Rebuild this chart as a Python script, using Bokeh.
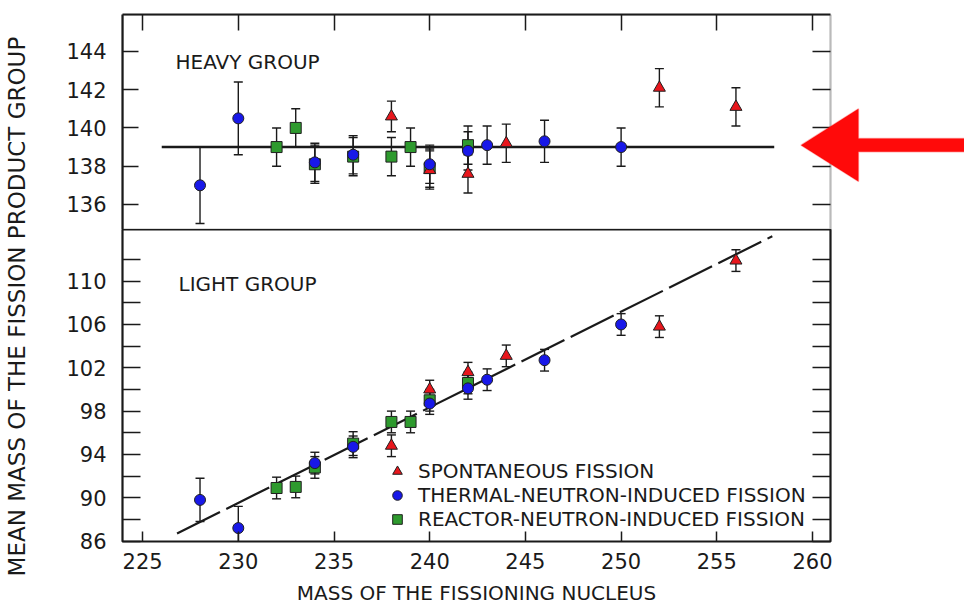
from bokeh.plotting import figure
from bokeh.models import (Range1d, LinearAxis, FixedTicker, Label, PolyAnnotation,
                          BoxAnnotation, Legend, LegendItem)
from bokeh.layouts import row, column
from bokeh.embed import file_html
from bokeh.resources import INLINE

# ---------------- data ----------------
x_ticks = [225, 230, 235, 240, 245, 250, 255, 260]
heavy_ticks = [136, 138, 140, 142, 144]
light_ticks = [86, 90, 94, 98, 102, 106, 110]
light_minor = [88, 92, 96, 100, 104, 108, 112]

# Heavy group
heavy_sf_x = [238, 240, 242, 244, 252, 256]
heavy_sf_y = [140.6, 137.8, 137.6, 139.2, 142.1, 141.1]
heavy_sf_e = [0.8, 1.0, 1.0, 1.0, 1.0, 1.0]

heavy_th_x = [228, 230, 234, 236, 240, 242, 243, 246, 250]
heavy_th_y = [137.0, 140.5, 138.2, 138.6, 138.1, 138.8, 139.1, 139.3, 139.0]
heavy_th_e = [2.0, 1.9, 1.0, 1.0, 1.0, 1.0, 1.0, 1.1, 1.0]

heavy_re_x = [232, 233, 234, 236, 238, 239, 240, 242]
heavy_re_y = [139.0, 140.0, 138.1, 138.5, 138.5, 139.0, 137.9, 139.1]
heavy_re_e = [1.0, 1.0, 1.0, 1.0, 1.0, 1.0, 1.0, 1.0]

heavy_fit_x = [226.0, 258.0]
heavy_fit_y = [139.0, 139.0]

# Light group
light_sf_x = [238, 240, 242, 244, 252, 256]
light_sf_y = [94.8, 100.0, 101.6, 103.1, 105.8, 111.9]
light_sf_e = [1.0, 0.85, 0.9, 1.0, 1.0, 1.0]

light_th_x = [228, 230, 234, 236, 240, 242, 243, 246, 250]
light_th_y = [89.8, 87.2, 93.2, 94.7, 98.7, 100.1, 100.9, 102.7, 106.0]
light_th_e = [2.0, 2.0, 1.0, 1.0, 1.0, 1.0, 1.0, 1.0, 1.0]

light_re_x = [232, 233, 234, 236, 238, 239, 240, 242]
light_re_y = [90.9, 91.0, 92.8, 95.0, 97.0, 97.0, 99.0, 100.6]
light_re_e = [1.0, 1.0, 1.0, 1.1, 1.0, 1.0, 1.0, 1.0]

light_fit_x = [226.8, 257.9]
light_fit_y = [86.7, 114.15]

# ---------------- style ----------------
RED = "#e8161c"
BLUE = "#1818e8"
GREEN = "#2e9a2e"
INK = "#1a1a1a"
ARROW_RED = "#ff0a0a"
FONT = "DejaVu Sans"

X0, X1 = 223.95, 260.94          # visible x extent of the panels
FRAME_W = 708
PX_PER_X = FRAME_W / (X1 - X0)
TOP_FRAME_W = 842                 # top panel frame also hosts the pointer arrow
HEAVY_Y = (134.69, 145.93)
LIGHT_Y = (85.96, 114.77)


def style_axis(ax, tick_in, labels=True):
    ax.axis_line_color = None
    ax.major_tick_in = tick_in
    ax.major_tick_out = 0
    ax.minor_tick_in = tick_in
    ax.minor_tick_out = 0
    ax.major_tick_line_color = INK
    ax.minor_tick_line_color = INK
    ax.major_tick_line_width = 1.5
    ax.minor_tick_line_width = 1.5
    ax.major_label_text_font = FONT
    ax.major_label_text_font_size = "21px"
    ax.major_label_text_color = INK
    if not labels:
        ax.major_label_overrides = {t: "" for t in ax.ticker.ticks}
        ax.major_label_standoff = 0


def draw_bars(p, x, y, e):
    lo = [a - b for a, b in zip(y, e)]
    hi = [a + b for a, b in zip(y, e)]
    p.segment(x0=x, y0=lo, x1=x, y1=hi, line_color=INK, line_width=1.4)
    p.scatter(x=x + x, y=lo + hi, marker="dash", size=9, line_color=INK, line_width=1.4)


def draw_marks(p, x, y, marker, color, size):
    return p.scatter(x=x, y=y, marker=marker, size=size, fill_color=color,
                     line_color="#202020", line_width=1)


# ---------------- top (heavy group) ----------------
top = figure(frame_width=TOP_FRAME_W, frame_height=215,
             x_range=Range1d(X0, X0 + TOP_FRAME_W / PX_PER_X), y_range=Range1d(*HEAVY_Y),
             x_axis_location=None, y_axis_location=None, toolbar_location=None,
             output_backend="svg", min_border_left=74, min_border_right=0,
             min_border_top=14, min_border_bottom=0)
top.xgrid.grid_line_color = None
top.ygrid.grid_line_color = None
top.outline_line_color = None

ax = LinearAxis(ticker=FixedTicker(ticks=heavy_ticks))
style_axis(ax, 16)
ax.major_label_standoff = 16
ax.axis_line_color = INK
ax.axis_line_width = 2.2
top.add_layout(ax, "left")

ax = LinearAxis(ticker=FixedTicker(ticks=heavy_ticks), fixed_location=X1)
style_axis(ax, 18, labels=False)
top.add_layout(ax, "right")

ax = LinearAxis(ticker=FixedTicker(ticks=x_ticks), bounds=(X0, X1))
style_axis(ax, 16, labels=False)
ax.axis_line_color = INK
ax.axis_line_width = 2.2
top.add_layout(ax, "above")

# panel border of the heavy-group box (right edge and divider)
top.add_layout(BoxAnnotation(left=X0, right=X1, bottom=HEAVY_Y[0], top=HEAVY_Y[1],
                             fill_alpha=0, line_color=INK, line_width=2.2))

top.line(heavy_fit_x, heavy_fit_y, line_color=INK, line_width=2.6)
draw_bars(top, heavy_re_x, heavy_re_y, heavy_re_e)
draw_bars(top, heavy_sf_x, heavy_sf_y, heavy_sf_e)
draw_bars(top, heavy_th_x, heavy_th_y, heavy_th_e)
draw_marks(top, heavy_re_x, heavy_re_y, "square", GREEN, 11)
draw_marks(top, heavy_sf_x, heavy_sf_y, "triangle", RED, 12)
draw_marks(top, heavy_th_x, heavy_th_y, "circle", BLUE, 11)

top.add_layout(Label(x=53, y=168, x_units="screen", y_units="screen", text="HEAVY GROUP",
                     text_font=FONT, text_font_size="20px", text_color=INK,
                     text_baseline="alphabetic"))

# red pointer arrow (annotation shape, pointing at the heavy-group mean line)
arrow_xs = [259.4, 262.4, 262.4, 268.5, 268.5, 262.4, 262.4]
arrow_ys = [139.1, 141.0, 139.45, 139.45, 138.75, 138.75, 137.2]
top.add_layout(PolyAnnotation(xs=arrow_xs, ys=arrow_ys, fill_color=ARROW_RED, fill_alpha=1.0,
                              line_color=ARROW_RED, line_width=1.5))

# ---------------- bottom (light group) ----------------
bot = figure(frame_width=FRAME_W, frame_height=312, x_range=Range1d(X0, X1),
             y_range=Range1d(*LIGHT_Y), x_axis_location=None, y_axis_location=None,
             toolbar_location=None, output_backend="svg", min_border_left=74,
             min_border_right=140, min_border_top=0, min_border_bottom=0)
bot.xgrid.grid_line_color = None
bot.ygrid.grid_line_color = None
bot.outline_line_color = INK
bot.outline_line_width = 2.2

ax = LinearAxis(ticker=FixedTicker(ticks=light_ticks, minor_ticks=light_minor))
style_axis(ax, 18)
ax.major_label_standoff = 16
bot.add_layout(ax, "left")
ax = LinearAxis(ticker=FixedTicker(ticks=light_ticks, minor_ticks=light_minor))
style_axis(ax, 18, labels=False)
bot.add_layout(ax, "right")
ax = LinearAxis(ticker=FixedTicker(ticks=x_ticks),
                axis_label="MASS OF THE FISSIONING NUCLEUS")
style_axis(ax, 10)
ax.major_label_standoff = 11
ax.axis_label_text_font = FONT
ax.axis_label_text_font_size = "20px"
ax.axis_label_text_font_style = "normal"
ax.axis_label_text_color = INK
ax.axis_label_standoff = 9
bot.add_layout(ax, "below")

bot.line(light_fit_x, light_fit_y, line_color=INK, line_width=2.2, line_dash="48 7")
draw_bars(bot, light_re_x, light_re_y, light_re_e)
draw_bars(bot, light_sf_x, light_sf_y, light_sf_e)
draw_bars(bot, light_th_x, light_th_y, light_th_e)
r_re = draw_marks(bot, light_re_x, light_re_y, "square", GREEN, 11)
r_sf = draw_marks(bot, light_sf_x, light_sf_y, "triangle", RED, 12)
r_th = draw_marks(bot, light_th_x, light_th_y, "circle", BLUE, 11)

bot.add_layout(Label(x=56, y=258, x_units="screen", y_units="screen", text="LIGHT GROUP",
                     text_font=FONT, text_font_size="20px", text_color=INK,
                     text_baseline="alphabetic"))

legend = Legend(items=[LegendItem(label="SPONTANEOUS FISSION", renderers=[r_sf]),
                       LegendItem(label="THERMAL-NEUTRON-INDUCED FISSION", renderers=[r_th]),
                       LegendItem(label="REACTOR-NEUTRON-INDUCED FISSION", renderers=[r_re])],
                location=(263, 10), padding=0, margin=0, spacing=0,
                glyph_width=24, glyph_height=24, label_height=24, label_standoff=9,
                label_text_font=FONT, label_text_font_size="20px", label_text_color=INK,
                border_line_color=None, background_fill_alpha=0)
bot.add_layout(legend)

# ---------------- y label strip ----------------
lab = figure(width=48, height=606, x_range=Range1d(0, 1), y_range=Range1d(0, 1),
             x_axis_location=None, y_axis_location=None, toolbar_location=None,
             output_backend="svg", min_border=0, outline_line_color=None)
lab.xgrid.grid_line_color = None
lab.ygrid.grid_line_color = None
lab.add_layout(Label(x=0.34, y=0.495, text="MEAN MASS OF THE FISSION PRODUCT GROUP",
                     angle=1.5707963, text_align="center", text_baseline="middle",
                     text_font=FONT, text_font_size="23px", text_color=INK))

layout = row(lab, column(top, bot))
open("out.html", "w").write(file_html(layout, INLINE))
